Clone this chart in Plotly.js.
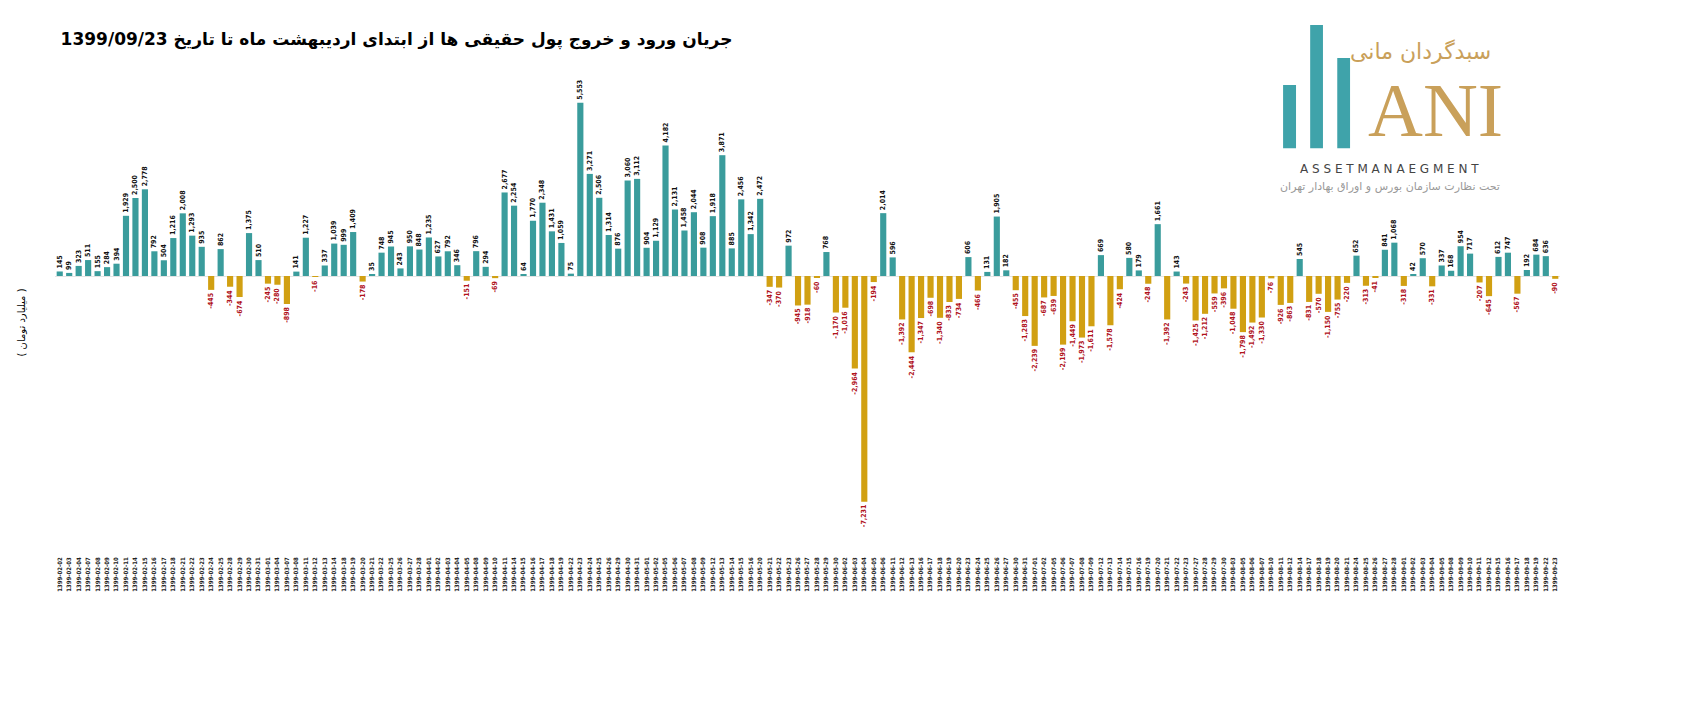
<!DOCTYPE html>
<html>
<head>
<meta charset="utf-8">
<script src="https://cdn.plot.ly/plotly-3.0.1.min.js"></script>
<style>body{margin:0;background:#fff}#chart{width:1684px;height:702px}</style>
</head>
<body>
<div id="chart"></div>
<script>
// trading days (1399)
const days = {
  "02": ["02","03","04","07","08","09","10","11","14","15","16","17","18","21","22","23","24","25","28","29","30","31"],
  "03": ["01","04","07","08","11","12","13","14","18","19","20","21","22","25","26","27","28"],
  "04": ["01","02","03","04","05","08","09","10","11","14","15","16","17","18","19","22","23","24","25","26","29","30","31"],
  "05": ["01","02","05","06","07","08","09","12","13","14","15","16","20","21","22","23","26","27","28","29","30"],
  "06": ["02","03","04","05","06","11","12","13","16","17","18","19","20","23","24","25","26","27","30","31"],
  "07": ["01","02","05","06","07","08","09","12","13","14","15","16","19","20","21","22","23","27","28","29","30"],
  "08": ["03","05","06","07","10","11","12","14","17","18","19","20","21","24","25","26","27","28"],
  "09": ["01","02","03","04","05","08","09","10","11","12","15","16","17","18","19","22","23"]
};
let dates = [];
for (const m in days) {
    days[m].forEach(d => dates.push("1399-" + m + "-" + d));
}

// net flow (billion toman)
const flow = [
  145,99,323,511,155,284,394,1929,2500,2778,
  792,504,1216,2008,1293,935,-445,862,-344,-674,
  1375,510,-245,-280,-898,141,1227,-16,337,1039,
  999,1409,-178,35,748,945,243,950,848,1235,
  627,792,346,-151,796,294,-69,2677,2254,64,
  1770,2348,1431,1059,75,5553,3271,2506,1314,876,
  3060,3112,904,1129,4182,2131,1458,2044,908,1918,
  3871,885,2456,1342,2472,-347,-370,972,-945,-918,
  -60,768,-1170,-1016,-2964,-7231,-194,2014,596,-1392,
  -2444,-1347,-698,-1340,-833,-734,606,-466,131,1905,
  182,-455,-1283,-2239,-687,-639,-2199,-1449,-1973,-1611,
  669,-1578,-424,580,179,-248,1661,-1392,143,-243,
  -1425,-1212,-559,-396,-1048,-1798,-1492,-1330,-76,-926,
  -863,545,-831,-570,-1150,-755,-220,652,-313,-41,
  841,1068,-318,42,570,-331,337,168,954,717,
  -207,-645,612,747,-567,192,684,636,-90
];

const teal = "#3a9c9c", gold = "#d1a012", logoTeal = "#3fa3aa", logoGold = "#c9a05a";

let trace = {
    x: dates,
    y: flow,
    type: "bar",
    marker: {color: flow.map(v => v >= 0 ? teal : gold)},
    texttemplate: "%{y:,}",
    textposition: "outside",
    textangle: -90,
    constraintext: "none",
    textfont: {family: "DejaVu Sans Condensed, Arial", size: 7, weight: "bold",
               color: flow.map(v => v >= 0 ? "#111" : "#b0121b")},
    cliponaxis: false,
    hoverinfo: "x+y"
};

// logo pillars in paper coords
const pillar = (x0, x1, top) => ({type: "rect", xref: "paper", yref: "paper",
    x0: x0, x1: x1, y0: 0.875, y1: top, fillcolor: logoTeal, line: {width: 0}});

let layout = {
    width: 1684, height: 702,
    margin: {l: 55, r: 124, t: 90, b: 147},
    paper_bgcolor: "#fff", plot_bgcolor: "#fff",
    bargap: 0.35,
    showlegend: false,
    title: {
        text: "<b>جریان ورود و خروج پول حقیقی ها از ابتدای اردیبهشت ماه تا تاریخ 1399/09/23</b>",
        x: 0.036, xanchor: "left", y: 0.953,
        font: {family: "DejaVu Sans", size: 17, color: "#000"}
    },
    xaxis: {
        type: "category", tickangle: -90, showgrid: false, zeroline: false,
        showline: false, ticks: "",
        tickfont: {family: "DejaVu Sans Condensed", size: 6, color: "#222", weight: "bold"}
    },
    yaxis: {
        range: [-8940, 5960], showgrid: false, zeroline: true,
        zerolinecolor: "#e4e4e4", zerolinewidth: 1,
        showticklabels: false, ticks: "",
        title: {text: "( میلیارد تومان )", standoff: 26,
                font: {family: "DejaVu Sans", size: 10, color: "#000"}}
    },
    shapes: [
        pillar(0.816, 0.8246, 1.011),
        pillar(0.834, 0.8425, 1.14),
        pillar(0.852, 0.8605, 1.069)
    ],
    annotations: [
        {xref: "paper", yref: "paper", x: 0.907, y: 1.115, xanchor: "center", showarrow: false,
         text: "سبدگردان مانی", font: {family: "DejaVu Sans", size: 22, color: logoGold}},
        {xref: "paper", yref: "paper", x: 0.917, y: 0.862, xanchor: "center", yanchor: "bottom", showarrow: false,
         text: "ANI", font: {family: "Liberation Serif", size: 76, color: logoGold}},
        {xref: "paper", yref: "paper", x: 0.887, y: 0.849, xanchor: "center", showarrow: false,
         text: "A S S E T M A N A E G M E N T", font: {family: "DejaVu Sans", size: 12, color: "#444"}},
        {xref: "paper", yref: "paper", x: 0.887, y: 0.81, xanchor: "center", showarrow: false,
         text: "تحت نظارت سازمان بورس و اوراق بهادار تهران", font: {family: "DejaVu Sans", size: 11, color: "#999"}}
    ]
};

Plotly.newPlot("chart", [trace], layout, {displayModeBar: false});
</script>
</body>
</html>
